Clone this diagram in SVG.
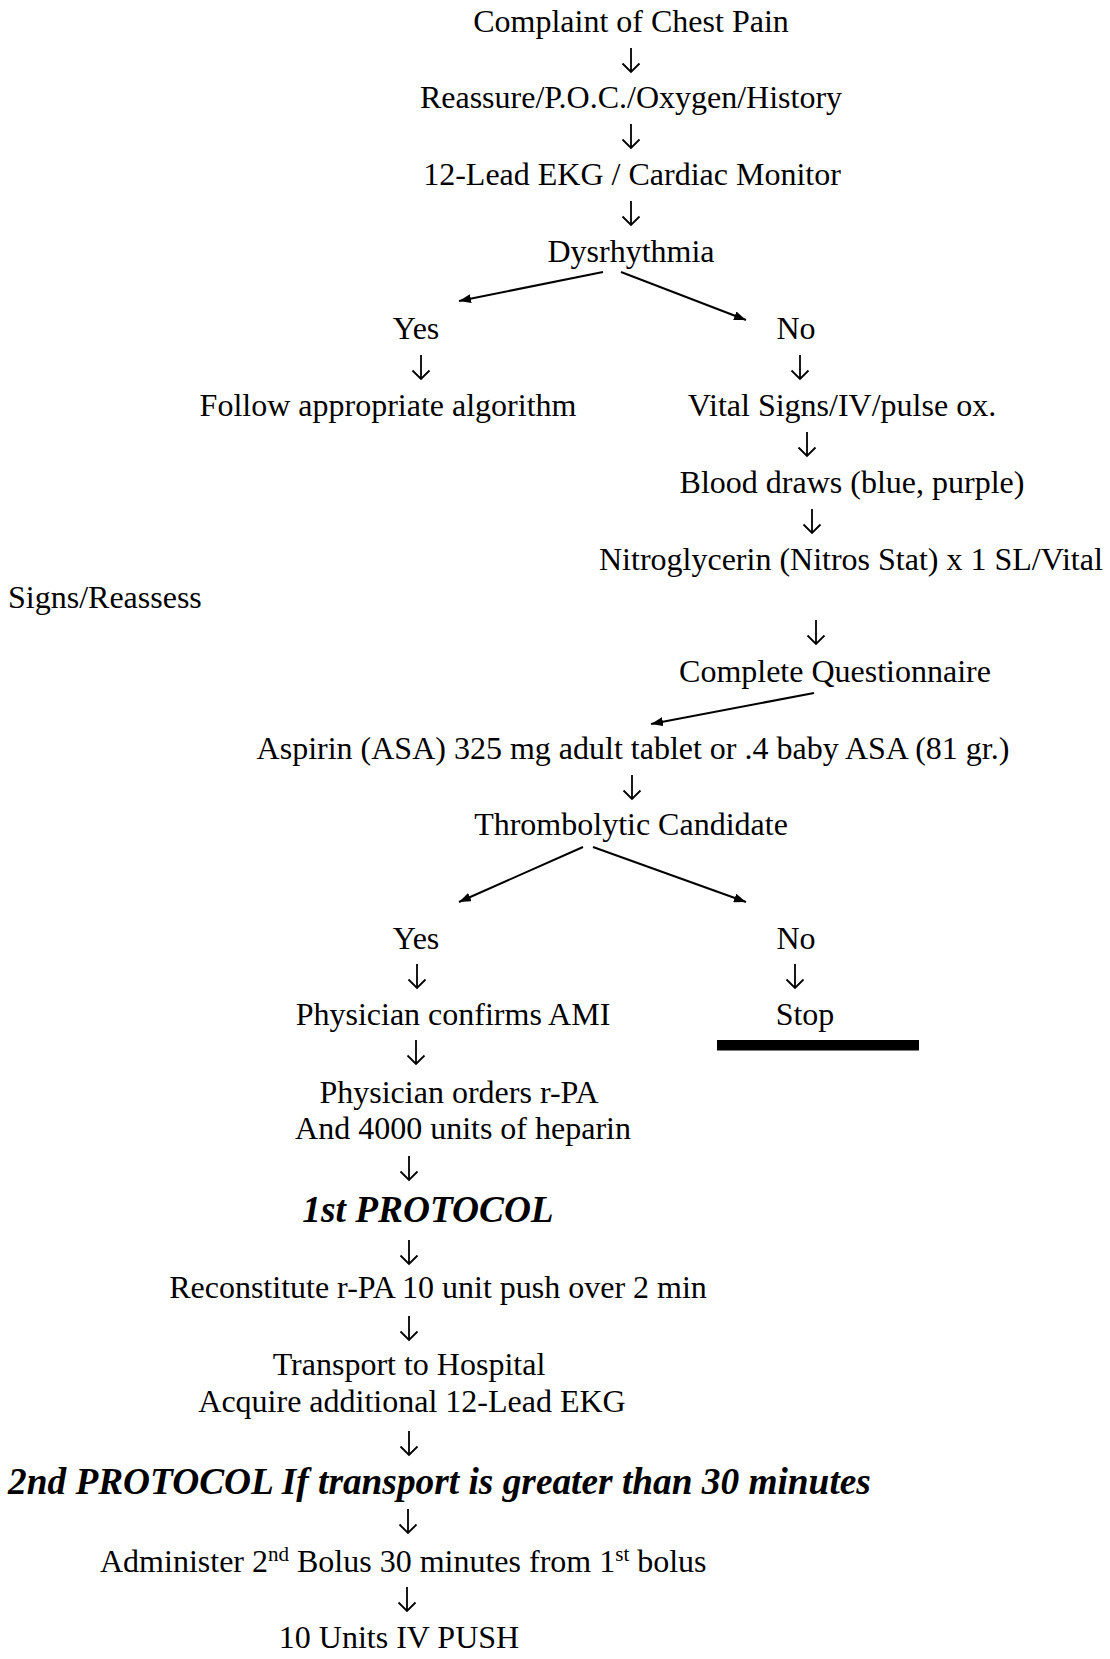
<svg xmlns="http://www.w3.org/2000/svg" width="1110" height="1659" viewBox="0 0 1110 1659">
<style>
.t{font-family:"Liberation Serif","Times New Roman",serif;font-size:32px;fill:#000}
.c{text-anchor:middle}
.bi{font-style:italic;font-weight:bold;font-size:37.33px}
.sup{font-size:21px}
.dn{fill:none;stroke:#000;stroke-width:1.8}
.dg{fill:none;stroke:#000;stroke-width:2}
</style>
<defs>
<marker id="ah" markerUnits="userSpaceOnUse" markerWidth="13" markerHeight="9" refX="12" refY="4.5" orient="auto">
<path d="M0,0 L12,4.5 L0,9 z" fill="#000"/>
</marker>
<path id="down" d="M0,0 V24 M-8.5,15.5 L0,24 L8.5,15.5"/>
</defs>
<rect width="1110" height="1659" fill="#fff"/>
<g id="connectors">
<use href="#down" class="dn" x="631" y="48"/>
<use href="#down" class="dn" x="631" y="124"/>
<use href="#down" class="dn" x="631" y="201"/>
<line class="dg" x1="603" y1="272" x2="459" y2="301" marker-end="url(#ah)"/>
<line class="dg" x1="621" y1="272" x2="746" y2="320" marker-end="url(#ah)"/>
<use href="#down" class="dn" x="421" y="355"/>
<use href="#down" class="dn" x="800" y="355"/>
<use href="#down" class="dn" x="807" y="432"/>
<use href="#down" class="dn" x="812" y="509"/>
<use href="#down" class="dn" x="816" y="620"/>
<line class="dg" x1="814" y1="693" x2="651" y2="724" marker-end="url(#ah)"/>
<use href="#down" class="dn" x="632" y="775"/>
<line class="dg" x1="583" y1="847" x2="459" y2="902" marker-end="url(#ah)"/>
<line class="dg" x1="593" y1="847" x2="746" y2="902" marker-end="url(#ah)"/>
<use href="#down" class="dn" x="417" y="964"/>
<use href="#down" class="dn" x="795" y="964"/>
<use href="#down" class="dn" x="416" y="1040"/>
<use href="#down" class="dn" x="409" y="1156"/>
<use href="#down" class="dn" x="409" y="1240"/>
<use href="#down" class="dn" x="409" y="1316"/>
<use href="#down" class="dn" x="409" y="1431"/>
<use href="#down" class="dn" x="408" y="1509"/>
<use href="#down" class="dn" x="407" y="1587"/>
</g>
<g id="n-complaint"><text class="t c" x="631" y="32">Complaint of Chest Pain</text></g>
<g id="n-reassure"><text class="t c" x="631" y="108">Reassure/P.O.C./Oxygen/History</text></g>
<g id="n-ekg"><text class="t c" x="632" y="185">12-Lead EKG / Cardiac Monitor</text></g>
<g id="n-dysrhythmia"><text class="t c" x="631" y="262">Dysrhythmia</text></g>
<g id="n-yes1"><text class="t c" x="416" y="339">Yes</text></g>
<g id="n-no1"><text class="t c" x="796" y="339">No</text></g>
<g id="n-follow"><text class="t c" x="388" y="416">Follow appropriate algorithm</text></g>
<g id="n-vital"><text class="t c" x="842" y="416">Vital Signs/IV/pulse ox.</text></g>
<g id="n-blood"><text class="t c" x="852" y="493">Blood draws (blue, purple)</text></g>
<g id="n-nitro">
<text class="t" x="599" y="570">Nitroglycerin (Nitros Stat) x 1 SL/Vital</text>
<text class="t" x="8" y="608">Signs/Reassess</text>
</g>
<g id="n-questionnaire"><text class="t c" x="835" y="682">Complete Questionnaire</text></g>
<g id="n-aspirin"><text class="t c" x="633" y="759">Aspirin (ASA) 325 mg adult tablet or .4 baby ASA (81 gr.)</text></g>
<g id="n-thrombolytic"><text class="t c" x="631" y="835">Thrombolytic Candidate</text></g>
<g id="n-yes2"><text class="t c" x="416" y="949">Yes</text></g>
<g id="n-no2"><text class="t c" x="796" y="949">No</text></g>
<g id="n-confirms"><text class="t c" x="453" y="1025">Physician confirms AMI</text></g>
<g id="n-stop">
<text class="t c" x="805" y="1025">Stop</text>
<rect x="717" y="1040" width="202" height="10.5" fill="#000"/>
</g>
<g id="n-orders">
<text class="t c" x="459" y="1103">Physician orders r-PA</text>
<text class="t c" x="463" y="1139">And 4000 units of heparin</text>
</g>
<g id="n-protocol1"><text class="t c bi" x="428" y="1222">1st PROTOCOL</text></g>
<g id="n-reconstitute"><text class="t c" x="438" y="1298">Reconstitute r-PA 10 unit push over 2 min</text></g>
<g id="n-transport">
<text class="t c" x="409" y="1375">Transport to Hospital</text>
<text class="t c" x="412" y="1412">Acquire additional 12-Lead EKG</text>
</g>
<g id="n-protocol2"><text class="t bi" x="8" y="1494">2nd PROTOCOL If transport is greater than 30 minutes</text></g>
<g id="n-bolus"><text class="t" x="100" y="1572">Administer 2<tspan class="sup" dy="-11">nd</tspan><tspan dy="11"> Bolus 30 minutes from 1</tspan><tspan class="sup" dy="-11">st</tspan><tspan dy="11"> bolus</tspan></text></g>
<g id="n-push"><text class="t c" x="399" y="1648">10 Units IV PUSH</text></g>
</svg>
